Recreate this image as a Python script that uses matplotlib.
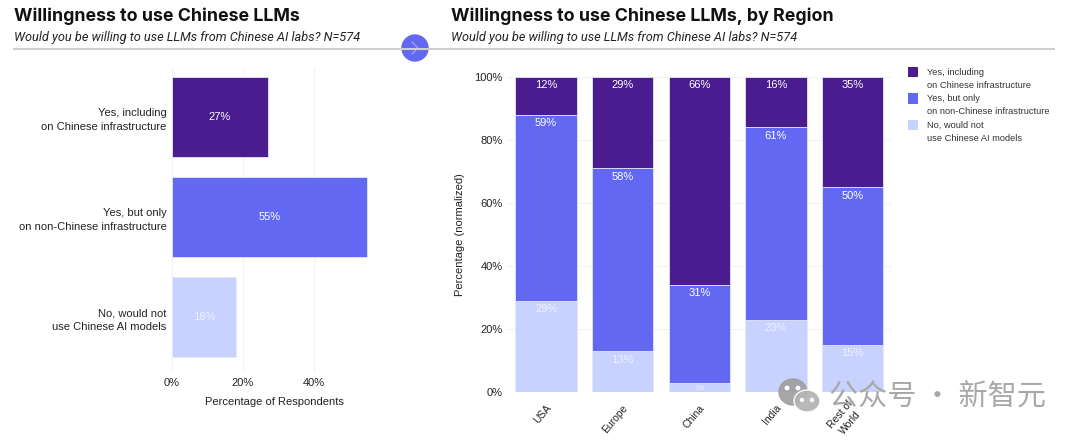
#!/usr/bin/env python3
# Willingness to use Chinese LLMs: overall and by region
import matplotlib as mpl
mpl.use('Agg')
from matplotlib import pyplot as plt
from matplotlib.patches import Circle, Ellipse
from matplotlib.lines import Line2D
from matplotlib.transforms import ScaledTranslation

plt.rcParams['font.family'] = ['Liberation Sans', 'DejaVu Sans']

answers = ['Yes, including\non Chinese infrastructure',
           'Yes, but only\non non-Chinese infrastructure',
           'No, would not\nuse Chinese AI models']
overall = [27, 55, 18]

regions = ['USA', 'Europe', 'China', 'India', 'Rest of\nWorld']
yes_including = [12, 29, 66, 16, 35]
yes_only_non = [59, 58, 31, 61, 50]
no_would_not = [29, 13, 3, 23, 15]

colors = ['#4B1C8F', '#6268F1', '#C7D2FE']
W, H = 1080, 441
text_color = '#222222'
grid_color = '#F1F1F6'


# axes position from pixel box in the reference
def px_axes(fig, left, top, right, bottom):
    return fig.add_axes([left / W, 1 - bottom / H, (right - left) / W, (bottom - top) / H])


def fig_text(fig, x, y, s, **kw):
    fig.text(x / W, 1 - y / H, s, **kw)


fig = plt.figure(figsize=(10.8, 4.41), dpi=100)

# left chart
ax1 = px_axes(fig, 172, 67, 385, 372)
ax1.barh(range(3), overall, height=0.8, color=colors, edgecolor='#E4E6FD', linewidth=0.6, zorder=2)
ax1.set_ylim(2.55, -0.5)
ax1.set_xlim(0, 60)
ax1.set_xticks([0, 20, 40], ['0%', '20%', '40%'])
ax1.set_yticks(range(3), answers, linespacing=1.45)
ax1.tick_params(axis='both', length=0, labelsize=8, labelcolor=text_color)
ax1.tick_params(axis='x', pad=4)
ax1.tick_params(axis='y', pad=4)
ax1.grid(True, axis='x', color=grid_color, linewidth=0.8, zorder=0)
ax1.set_xlabel('Percentage of Respondents', fontsize=8, color=text_color, labelpad=7, x=0.483)
for side in ax1.spines:
    ax1.spines[side].set_visible(False)
for i, val in enumerate(overall):
    ax1.text(val / 2, i, '{}%'.format(val), color='white' if i < 2 else '#EEF1FF',
             fontsize=8, ha='center', va='center', zorder=3)

# right chart
ax2 = px_axes(fig, 507, 77, 891, 392)
bottoms_mid = no_would_not
bottoms_top = [a + b for a, b in zip(no_would_not, yes_only_non)]
x = list(range(len(regions)))
bar_w = 0.8
ax2.bar(x, no_would_not, width=bar_w, color=colors[2], edgecolor='#E4E6FD', linewidth=0.6, zorder=2, label=answers[2])
ax2.bar(x, yes_only_non, width=bar_w, bottom=bottoms_mid, color=colors[1], edgecolor='#E4E6FD', linewidth=0.6, zorder=2, label=answers[1])
ax2.bar(x, yes_including, width=bar_w, bottom=bottoms_top, color=colors[0], edgecolor='#E4E6FD', linewidth=0.6, zorder=2, label=answers[0])
ax2.set_xlim(-0.51, 4.5)
ax2.set_ylim(0, 100)
ax2.set_yticks([0, 20, 40, 60, 80, 100], ['0%', '20%', '40%', '60%', '80%', '100%'])
ax2.set_xticks(x, regions, rotation=50, ha='right', va='center', rotation_mode='anchor',
               linespacing=1.3, multialignment='center')
ax2.tick_params(axis='both', length=0, labelsize=8, labelcolor=text_color)
ax2.tick_params(axis='x', labelsize=7.5, pad=10)
ax2.tick_params(axis='y', pad=3)
# region names hang a little right of the bar centre
nudge = ScaledTranslation(3 / 100, 0, fig.dpi_scale_trans)
for label in ax2.get_xticklabels():
    label.set_transform(label.get_transform() + nudge)
ax2.grid(True, axis='y', color=grid_color, linewidth=0.8, zorder=0)
ax2.set_axisbelow(True)
ax2.set_ylabel('Percentage (normalized)', fontsize=8, color=text_color, labelpad=6.5)
for side in ax2.spines:
    ax2.spines[side].set_visible(False)

# value labels sit just under the top of each segment
for i in x:
    tops = [no_would_not[i], bottoms_top[i], 100]
    vals = [no_would_not[i], yes_only_non[i], yes_including[i]]
    for j in range(3):
        small = vals[j] < 5
        ax2.annotate('{}%'.format(vals[j]), (i, tops[j]),
                     xytext=(0, -2 if small else -2.5), textcoords='offset points',
                     color='#EEF1FF' if j == 0 else 'white', fontsize=5 if small else 8,
                     ha='center', va='top', zorder=3)

# legend order runs top of stack first
handles, labels = ax2.get_legend_handles_labels()
leg = ax2.legend(handles[::-1], labels[::-1], loc='upper left', bbox_to_anchor=(401 / 384, 1.03),
                 frameon=False, fontsize=6.7, labelcolor='#333333', handlelength=1.1, handleheight=1.4,
                 handletextpad=0.95, labelspacing=0.45, borderaxespad=0, borderpad=0, alignment='left')
for patch in leg.get_patches():
    patch.set_edgecolor('none')
    # square lines up with the first line of its label
    patch.set_y(patch.get_y() + 5)
for label in leg.get_texts():
    label.set_linespacing(1.6)

# titles and rule
for tx, title, sub in [(14, 'Willingness to use Chinese LLMs', 'Would you be willing to use LLMs from Chinese AI labs? N=574'),
                       (451, 'Willingness to use Chinese LLMs, by Region', 'Would you be willing to use LLMs from Chinese AI labs? N=574')]:
    fig_text(fig, tx, 16, title, fontsize=12.8, fontweight='bold', family='Inter', color='#111111', va='center')
    fig_text(fig, tx, 37, sub, fontsize=9.2, style='italic', family='Roboto', color='#222222', va='center')
fig.add_artist(Line2D([14 / W, 1054 / W], [1 - 48.5 / H] * 2, color='#CFCFCF', linewidth=1.5))

# arrow button between the panels
over = fig.add_axes([0, 0, 1, 1], facecolor='none')
over.set_xlim(0, W)
over.set_ylim(H, 0)
over.axis('off')
over.add_patch(Circle((415, 48), 13, color='#6268F1', zorder=5))
over.plot([412, 418, 412], [42, 48, 54], color='#A9ADF8', linewidth=0.8, zorder=6)

# watermark
over.add_patch(Ellipse((793, 392), 28, 26, color='#9E9E9E', alpha=0.9, zorder=7))
over.add_patch(Ellipse((807, 401), 26, 22, color='#B4B4B4', alpha=0.95, ec='white', lw=1, zorder=8))
for ex, ey in [(787, 388), (798, 388)]:
    over.add_patch(Circle((ex, ey), 1.7, color='white', zorder=9))
for ex, ey in [(802, 400), (812, 400)]:
    over.add_patch(Circle((ex, ey), 1.5, color='white', zorder=9))
over.text(829, 397, '公众号 · 新智元', fontsize=21, color='#A8A8A8', va='center', ha='left',
          family=['Noto Sans CJK SC', 'DejaVu Sans'], zorder=9)

fig.savefig('out.png', dpi=100)
